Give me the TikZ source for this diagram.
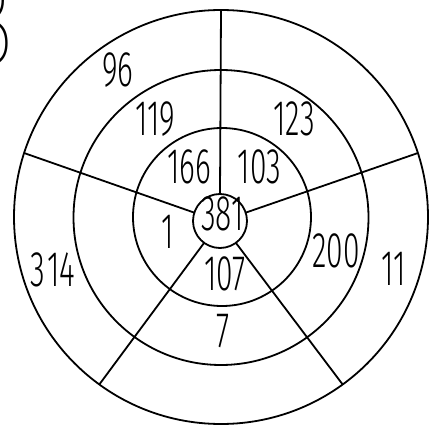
\documentclass[tikz,border=0pt]{standalone}
\usepackage{fontspec}
\newfontfamily\handfont{Fira Sans}[UprightFont={* Light}, FakeStretch=0.6]
\newfontfamily\bigletter{Fira Sans}[UprightFont={* Thin}, FakeStretch=0.8]
\usetikzlibrary{positioning}

\begin{document}
\begin{tikzpicture}[
      x=1pt, y=-1pt,
      ring/.style={circle, draw=black, line width=1.8pt, inner sep=0pt, outer sep=0pt},
      spoke/.style={line width=1.8pt, black},
      num/.style={font=\handfont\fontsize{50}{50}\selectfont, inner sep=0pt},
    ]
    \useasboundingbox (0,0) rectangle (434,425);
    % rings, from the rim to the hub
    \node[ring, minimum size=414pt] (rim) at (221,217) {};
    \node[ring, minimum size=295pt] (band) at (221,217.5) {};
    \node[ring, minimum size=178pt] (core) at (222,217) {};
    \node[ring, minimum size=54pt] (hub) at (220,221) {};

    \foreach \ang in {90,162,234,306,18}
      \draw[spoke] (hub.\ang) -- (rim.\ang);

    % outer band
    \node[num] (n96) at (118,70) {96};
    \node[num] (n314) at (53,270) {3\kern2pt 14};
    \node[num] (n11) at (394,269) {11};
    % middle band
    \node[num] (n119) at (155,119) {119};
    \node[num] (n123) at (294,119) {123};
    \node[num] (n200) at (336,251) {200};
    \node[num] (n7) at (223,331) {7};
    % inner band
    \node[num] (n166) at (189.5,167) {166};
    \node[num] (n103) at (259.5,167) {103};
    \node[num] (n1) at (168,232) {1};
    \node[num] (n107) at (225,274) {107};
    % hub
    \node[num] (n381) at (222.5,213.5) {381};

    % letter cut by the left edge
    \node[font=\bigletter\fontsize{130}{130}\selectfont, inner sep=0pt,
          anchor=south east] (letterB) at (15,68) {B};
  \end{tikzpicture}
\end{document}
